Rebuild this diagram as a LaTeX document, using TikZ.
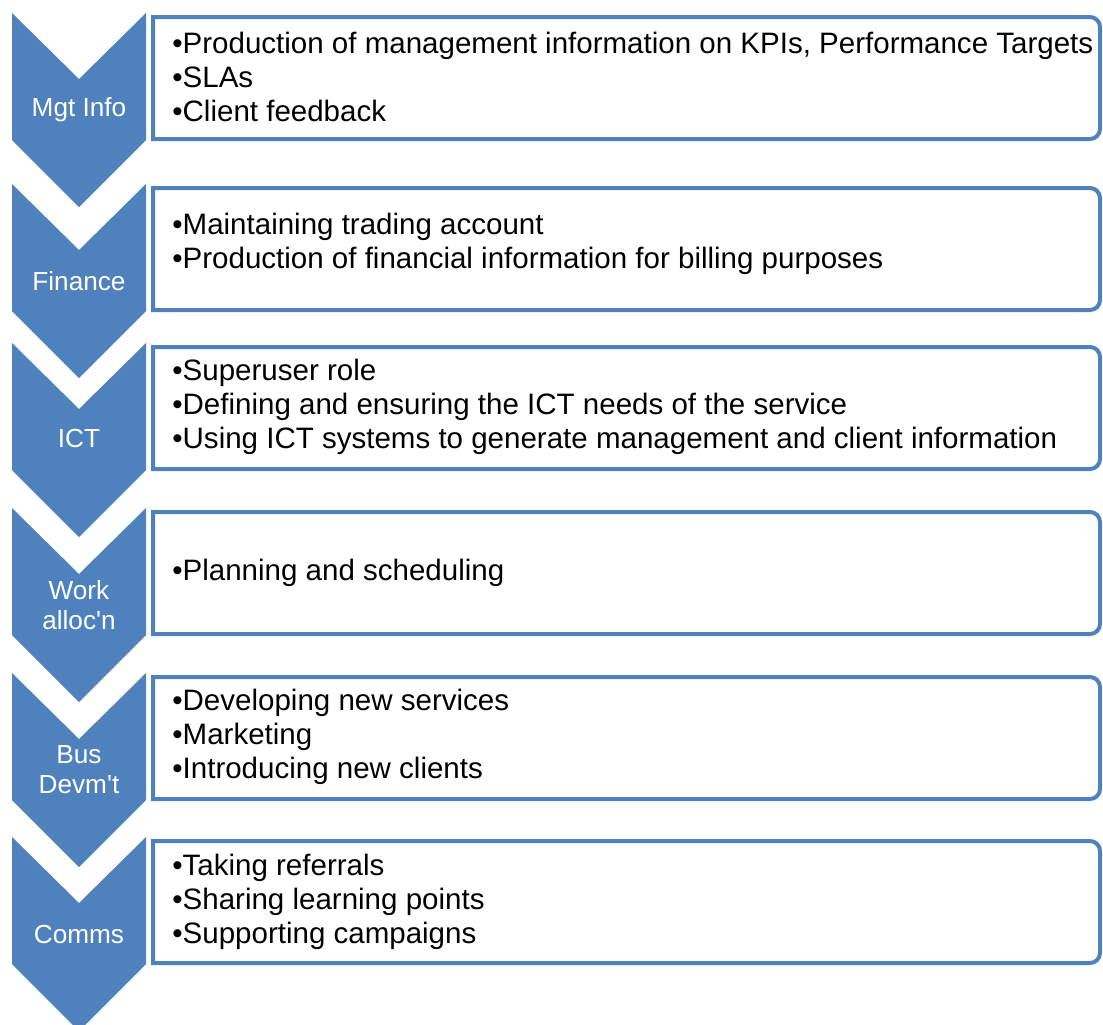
\documentclass[tikz,border=0pt]{standalone}
\usepackage{fontspec}
\setmainfont{Liberation Sans}
\usepackage{xcolor}
\usepackage{tikz}

\definecolor{chevblue}{HTML}{4F81BD}

\begin{document}
\begin{tikzpicture}[x=0.02cm, y=-0.02cm,
  chevron/.style={fill=chevblue},
  infobox/.style={draw=chevblue, line width=0.08cm},
  steplabel/.style={text=white, align=center, inner sep=0pt, font=\fontsize{14.9}{17}\selectfont},
  itemlist/.style={anchor=west, align=left, inner sep=0pt, font=\fontsize{16.8}{19.4}\selectfont}]
  \useasboundingbox (0,0) rectangle (1103,1025);
  % chevrons and boxes
  \foreach \t in {13,184,343,508,673,837} {
    \fill[chevron] (12,\t) -- (79,\t+66) -- (146,\t) -- (146,\t+127) -- (79,\t+194) -- (12,\t+127) -- cycle;
    \draw[infobox] (153,\t+4) -- (1090,\t+4) arc[start angle=-90, end angle=0, radius=10]
      -- (1100,\t+116) arc[start angle=0, end angle=90, radius=10] -- (153,\t+126) -- cycle;
  }
  % step names
  \node[steplabel] (mgt) at (79,110) {Mgt Info};
  \node[steplabel] (fin) at (79,281) {Finance};
  \node[steplabel] (ict) at (79,438) {ICT};
  \node[steplabel] (work) at (79,605) {Work\\alloc\textquotesingle n};
  \node[steplabel] (bus) at (79,770) {Bus\\Devm\textquotesingle t};
  \node[steplabel] (comms) at (79,934) {Comms};
  % tasks
  \node[itemlist] (mgtlist) at (172,77) {•Production of management information on KPIs, Performance Targets\\•SLAs\\•Client feedback};
  \node[itemlist] (finlist) at (172,244) {•Maintaining trading account\\•Production of financial information for billing purposes};
  \node[itemlist] (ictlist) at (172,407) {•Superuser role\\•Defining and ensuring the ICT needs of the service\\•Using ICT systems to generate management and client information};
  \node[itemlist] (worklist) at (172,573) {•Planning and scheduling};
  \node[itemlist] (buslist) at (172,737) {•Developing new services\\•Marketing\\•Introducing new clients};
  \node[itemlist] (commslist) at (172,902) {•Taking referrals\\•Sharing learning points\\•Supporting campaigns};
\end{tikzpicture}
\end{document}
